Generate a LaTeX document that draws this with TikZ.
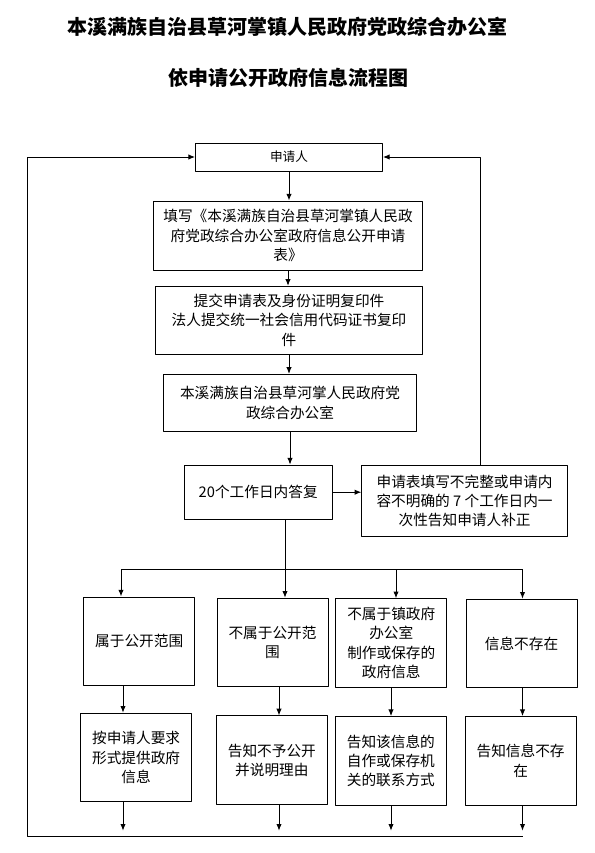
\documentclass[tikz,border=0pt]{standalone}
\usepackage{fontspec}
\setmainfont{Noto Sans CJK SC}
\usetikzlibrary{arrows.meta}
\begin{document}
\begin{tikzpicture}[x=0.75pt,y=-0.75pt,line join=round,line width=0.7pt,>={Latex[length=5pt,width=4pt]},
	box/.style={draw,align=center,inner sep=0pt,font=\fontsize{11}{14.6}\selectfont},
	cell/.style={box,minimum width=83.25pt,minimum height=66.5pt},
	headline/.style={font=\bfseries\fontsize{15}{18}\selectfont}]
	\useasboundingbox (0,0) rectangle (594,853);
	% title
	\node[headline] (title1) at (287,27) {本溪满族自治县草河掌镇人民政府党政综合办公室};
	\node[headline] (title2) at (288,78) {依申请公开政府信息流程图};
	% main column
	\node[box,minimum width=140.2pt,minimum height=21pt,font=\fontsize{9.5}{12}\selectfont] (app) at (289,157) {申请人};
	\node[box,minimum width=202.2pt,minimum height=51.75pt] (form) at (288,235.5) {填写《本溪满族自治县草河掌镇人民政\\府党政综合办公室政府信息公开申请\\表》};
	\node[box,minimum width=200.5pt,minimum height=51pt] (submit) at (289,320.3) {提交申请表及身份证明复印件\\法人提交统一社会信用代码证书复印\\件};
	\node[box,minimum width=189.9pt,minimum height=43pt] (office) at (290,403) {本溪满族自治县草河掌人民政府党\\政综合办公室};
	\node[box,minimum width=110.8pt,minimum height=40.7pt] (reply) at (258.2,492.2) {20个工作日内答复};
	\node[box,minimum width=154.2pt,minimum height=53.8pt] (fix) at (464.6,500.9) {申请表填写不完整或申请内\\容不明确的 7 个工作日内一\\次性告知申请人补正};
	% results
	\node[cell] (A1) at (139.2,641.3) {属于公开范围};
	\node[cell] (B1) at (272.5,642.5) {不属于公开范\\围};
	\node[cell] (C1) at (391.3,643) {不属于镇政府\\办公室\\制作或保存的\\政府信息};
	\node[cell] (D1) at (521.5,643.5) {信息不存在};
	\node[cell] (A2) at (136.1,757.5) {按申请人要求\\形式提供政府\\信息};
	\node[cell] (B2) at (271.9,760.2) {告知不予公开\\并说明理由};
	\node[cell] (C2) at (390.9,760.9) {告知该信息的\\自作或保存机\\关的联系方式};
	\node[cell] (D2) at (520.6,760.9) {告知信息不存\\在};
	% connectors
	\draw[->] (app.south) -- (app.south |- form.north);
	\draw[->] (form.south) -- (form.south |- submit.north);
	\draw[->] (submit.south) -- (submit.south |- office.north);
	\draw[->] (office.south) -- (office.south |- reply.north);
	\draw[->] (reply.east) -- (reply.east -| fix.west);
	\coordinate (back) at (480.5,155);
	\draw[->] (fix.north -| back) |- (app.east);
	\foreach \c/\x in {A/121,B/285,C/396,D/522.5}
	\coordinate (b\c) at (\x,569);
	\draw (reply.south -| bB) -- (bB);
	\draw (bA) -- (bD);
	\foreach \c in {A,B,C,D}
	\draw[->] (b\c) -- (b\c |- \c1.north);
	\foreach \c/\x in {A/123,B/279,C/391,D/522.5}
	\coordinate (k\c) at (\x,836);
	\foreach \c in {A,B,C,D}{
		\draw[->] (k\c |- \c1.south) -- (k\c |- \c2.north);
		\draw[->,shorten >=4pt] (k\c |- \c2.south) -- (k\c);
	}
	\coordinate (loop) at (27,836);
	\draw[->] (kD) -- (loop) |- (app.west);
\end{tikzpicture}
\end{document}
